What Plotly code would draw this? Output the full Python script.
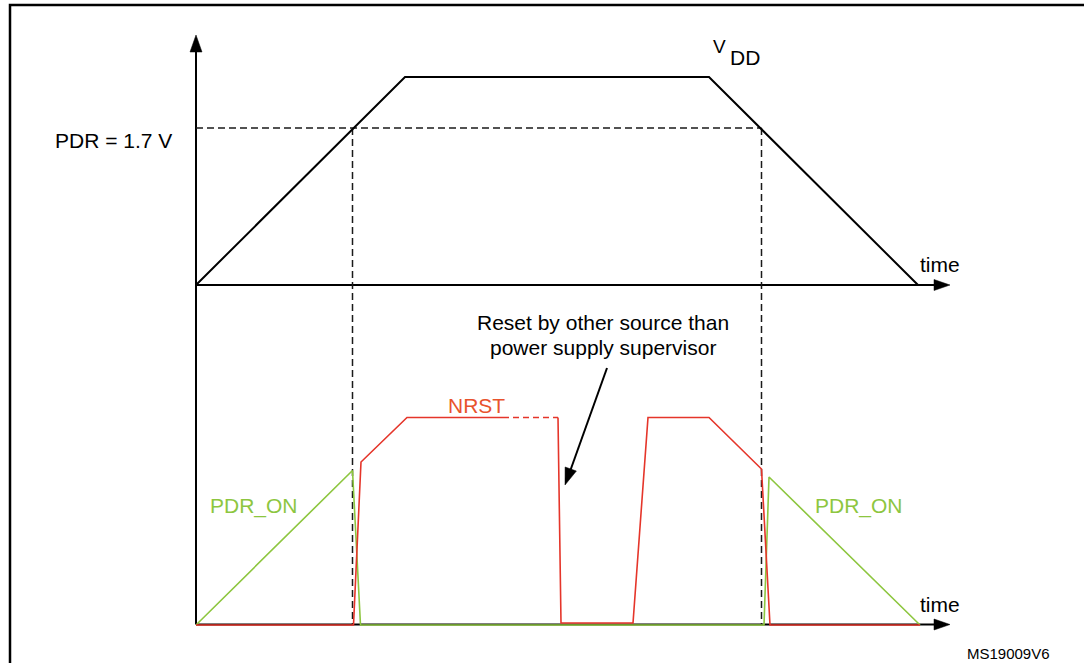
import math
import plotly.graph_objects as go

# ---------------- data (diagram coordinates: x = time position, y = level position) -------------
# VDD supply ramp (top panel)
vdd_t = [196, 405, 709, 918]
vdd_v = [285, 77, 77, 285]

# PDR threshold level and crossing times
pdr_level = 128
pdr_cross_t = [352.5, 761.5]

# PDR_ON signal (bottom panel)
pdr_on_t = [196, 352.5, 360.5, 764, 769, 920]
pdr_on_v = [625, 470.5, 625, 625, 477, 625]

# NRST signal (bottom panel): first solid part, dashed plateau, second solid part
nrst_a_t = [196, 353.5, 361, 407, 503]
nrst_a_v = [625, 625, 462, 417.5, 417.5]
nrst_dash_t = [503, 558]
nrst_dash_v = [417.5, 417.5]
nrst_b_t = [558, 561, 633, 648, 709, 761.5, 770, 920]
nrst_b_v = [417.5, 623, 623, 417.5, 417.5, 469, 625, 625]

# axes
axis_origin_t = 196
top_axis_level = 285
bottom_axis_level = 624.5
axis_top = 35
axis_end_t = 950

# annotation arrow (from, to)
reset_arrow_t = [607, 565]
reset_arrow_v = [368, 485]

# ---------------- styles -------------
BLACK = "#000000"
RED = "#E5352A"
ORANGE = "#E8532D"
GREEN = "#8DC63F"
FONT = "Liberation Sans, Arial, sans-serif"

fig = go.Figure()


def line(xs, ys, color, width, dash=None):
    fig.add_trace(go.Scatter(x=xs, y=ys, mode="lines",
                             line=dict(color=color, width=width, dash=dash),
                             hoverinfo="skip", showlegend=False))


def head(tip_x, tip_y, from_x, from_y, length, half):
    dx, dy = tip_x - from_x, tip_y - from_y
    n = math.hypot(dx, dy)
    ux, uy = dx / n, dy / n
    bx, by = tip_x - ux * length, tip_y - uy * length
    px, py = -uy, ux
    xs = [tip_x, bx + px * half, bx - px * half, tip_x]
    ys = [tip_y, by + py * half, by - py * half, tip_y]
    fig.add_trace(go.Scatter(x=xs, y=ys, mode="lines", fill="toself",
                             fillcolor=BLACK, line=dict(color=BLACK, width=0.5),
                             hoverinfo="skip", showlegend=False))


# axes
line([axis_origin_t, axis_origin_t], [bottom_axis_level, axis_top + 10], BLACK, 2)
head(axis_origin_t, axis_top, axis_origin_t, bottom_axis_level, 17, 6)
line([axis_origin_t, axis_end_t - 10], [top_axis_level, top_axis_level], BLACK, 2)
head(axis_end_t, top_axis_level, axis_origin_t, top_axis_level, 16, 5.5)
line([axis_origin_t, axis_end_t - 10], [bottom_axis_level, bottom_axis_level], BLACK, 2)
head(axis_end_t, bottom_axis_level, axis_origin_t, bottom_axis_level, 16, 5.5)

# PDR threshold dashed lines
line([axis_origin_t, pdr_cross_t[1]], [pdr_level, pdr_level], "#1a1a1a", 1.5, "7px,4px")
for t in pdr_cross_t:
    line([t, t], [pdr_level, bottom_axis_level], "#1a1a1a", 1.5, "7px,4px")

# VDD
line(vdd_t, vdd_v, BLACK, 2)

# PDR_ON
line(pdr_on_t, pdr_on_v, GREEN, 1.6)

# NRST
line(nrst_a_t, nrst_a_v, RED, 1.6)
line(nrst_dash_t, nrst_dash_v, RED, 1.4, "6px,4px")
line(nrst_b_t, nrst_b_v, RED, 1.6)

# reset annotation arrow
line([reset_arrow_t[0], reset_arrow_t[1] + 3], [reset_arrow_v[0], reset_arrow_v[1] - 8], BLACK, 2)
head(reset_arrow_t[1], reset_arrow_v[1], reset_arrow_t[0], reset_arrow_v[0], 17, 6)


def text(x, y, s, size=21, color=BLACK, xanchor="center"):
    fig.add_annotation(x=x, y=y, text=s, showarrow=False, xanchor=xanchor,
                       yanchor="middle", font=dict(family=FONT, size=size, color=color))


text(174, 140, "PDR = 1.7 V", xanchor="right")
text(719, 46, "V", size=19)
text(745, 57, "DD", size=21)
text(940, 264, "time")
text(940, 604, "time")
text(602.5, 322, "Reset by other source than")
text(603, 347, "power supply supervisor")
text(476.5, 405, "NRST", color=ORANGE)
text(253.5, 506, "PDR_ON", color=GREEN)
text(858.5, 506, "PDR_ON", color=GREEN)
text(1008.5, 653, "MS19009V6", size=15)

# frame
fig.add_shape(type="rect", x0=10, y0=5, x1=1100, y1=680,
              line=dict(color=BLACK, width=2.5), fillcolor="rgba(0,0,0,0)")

fig.update_layout(
    width=1084, height=663,
    margin=dict(l=0, r=0, t=0, b=0),
    paper_bgcolor="white", plot_bgcolor="white",
    xaxis=dict(range=[0, 1084], visible=False, fixedrange=True),
    yaxis=dict(range=[663, 0], visible=False, fixedrange=True),
    showlegend=False,
)

fig.write_html(
    "out.html",
    config={"displayModeBar": False, "staticPlot": True},
    post_script="document.body.style.margin='0';document.body.style.overflow='hidden';",
)
